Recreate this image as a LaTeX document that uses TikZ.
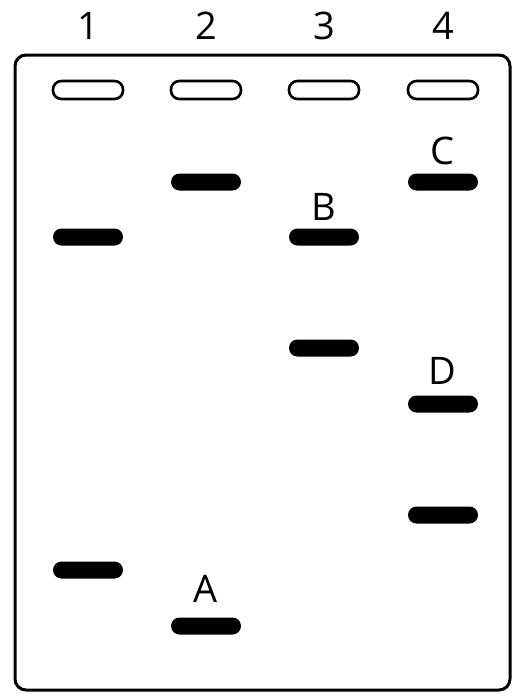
\documentclass[tikz,border=0pt]{standalone}
\usepackage{fontspec}
\setmainfont{Open Sans}
\begin{document}
\begin{tikzpicture}[x=1pt,y=-1pt,
  well/.style={draw, line width=2.6pt, rounded corners=8.5pt, minimum width=70pt, minimum height=18pt, inner sep=0pt},
  band/.style={fill=black, rounded corners=8.5pt, minimum width=70pt, minimum height=17pt, inner sep=0pt},
  lbl/.style={font=\fontsize{38}{38}\selectfont, inner sep=0pt, text=black}]
\useasboundingbox (0,0) rectangle (513,694);
\draw[line width=3pt, rounded corners=11pt] (15,55) rectangle (510,690);
% lane numbers
\node[lbl] (n1) at (88,26) {1};
\node[lbl] (n2) at (206,26) {2};
\node[lbl] (n3) at (324,26) {3};
\node[lbl] (n4) at (443,26) {4};
% wells
\node[well] (w1) at (88,90) {};
\node[well] (w2) at (206,90) {};
\node[well] (w3) at (324,90) {};
\node[well] (w4) at (443,90) {};
% bands
\node[band] (b11) at (88,237) {};
\node[band] (b12) at (88,570) {};
\node[band] (b21) at (206,182) {};
\node[band] (b22) at (206,626) {};
\node[band] (b31) at (324,237) {};
\node[band] (b32) at (324,348) {};
\node[band] (b41) at (443,182) {};
\node[band] (b42) at (443,404) {};
\node[band] (b43) at (443,515) {};
% labels
\node[lbl] (A) at (206,589) {A};
\node[lbl] (B) at (324,207) {B};
\node[lbl] (C) at (442,151) {C};
\node[lbl] (D) at (442,371) {D};
\end{tikzpicture}
\end{document}
